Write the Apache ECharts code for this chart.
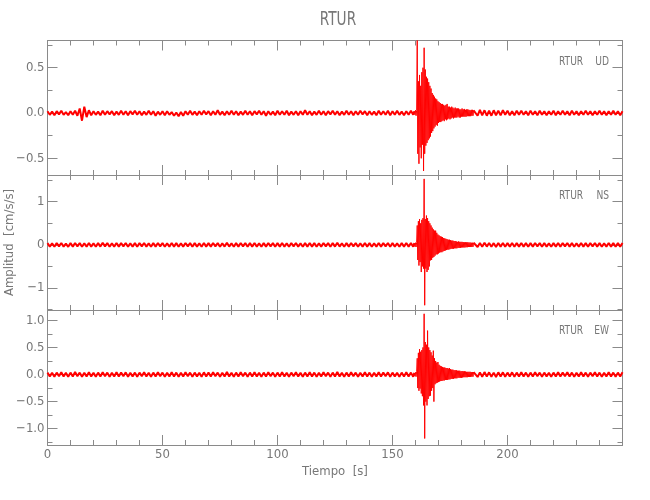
<!DOCTYPE html>
<html>
<head>
<meta charset="utf-8">
<script src="https://cdn.jsdelivr.net/npm/echarts@6/dist/echarts.min.js"></script>
<style>
html, body { margin: 0; background: #fff; }
#chart { width: 650px; height: 500px; }
</style>
</head>
<body>
<div id="chart"></div>
<script>
const station = 'RTUR';
const components = ['UD', 'NS', 'EW'];

// amplitudes in cm/s/s
// pre: t = 0..159 s (1 s), burst: t = 159.5..185.25 s (0.25 s), post: t = 186..250 s (1 s)
const udPre = [
  0.02,-0.02,0.015,-0.025,0.02,-0.015,0.025,-0.02,0.01,-0.025,
  0.02,-0.02,0.025,-0.03,0.05,-0.085,0.07,-0.045,0.03,-0.025,
  0.02,-0.02,0.015,-0.025,0.025,-0.02,0.02,-0.015,0.02,-0.025,
  0.015,-0.02,0.025,-0.02,0.02,-0.025,0.02,-0.015,0.025,-0.02,
  0.02,-0.025,0.015,-0.02,0.025,-0.02,0.02,-0.03,0.015,-0.02,
  0.02,-0.025,0.02,-0.02,0.01,-0.03,0.005,-0.035,0.01,-0.03,
  0.02,-0.02,0.025,-0.02,0.015,-0.025,0.02,-0.02,0.025,-0.015,
  0.02,-0.025,0.02,-0.02,0.03,-0.02,0.015,-0.025,0.02,-0.02,
  0.025,-0.02,0.02,-0.025,0.015,-0.02,0.025,-0.02,0.02,-0.025,
  0.02,-0.015,0.025,-0.02,0.02,-0.03,0.02,-0.02,0.015,-0.025,
  0.025,-0.02,0.02,-0.02,0.025,-0.025,0.015,-0.02,0.02,-0.025,
  0.02,-0.02,0.03,-0.02,0.02,-0.025,0.015,-0.02,0.025,-0.02,
  0.02,-0.025,0.02,-0.015,0.025,-0.02,0.02,-0.025,0.015,-0.02,
  0.025,-0.02,0.02,-0.025,0.02,-0.02,0.025,-0.015,0.02,-0.025,
  0.02,-0.02,0.015,-0.025,0.025,-0.02,0.02,-0.02,0.025,-0.025,
  0.02,-0.02,0.025,-0.02,0.015,-0.025,0.02,-0.02,0.025,-0.02
];
const udBurst = [
  0.02,-0.02,0.03,-0.03,   0.03,0.80,-0.45,0.35,    -0.56,0.42,-0.38,0.30,
  -0.50,0.45,-0.35,0.50,   -0.64,0.72,-0.45,0.48,   -0.36,0.40,-0.33,0.38,
  -0.30,0.34,-0.28,0.30,   -0.26,0.27,-0.22,0.22,   -0.20,0.20,-0.17,0.18,
  -0.15,0.16,-0.13,0.15,   -0.14,0.13,-0.11,0.12,   -0.10,0.11,-0.10,0.10,
  -0.09,0.10,-0.08,0.09,   -0.09,0.08,-0.07,0.09,   -0.08,0.10,-0.07,0.07,
  -0.06,0.07,-0.07,0.06,   -0.06,0.07,-0.05,0.06,   -0.06,0.05,-0.05,0.06,
  -0.05,0.05,-0.05,0.05,   -0.04,0.05,-0.05,0.04,   -0.05,0.04,-0.04,0.05,
  -0.04,0.04,-0.04,0.045,  -0.04,0.035,-0.04,0.04,  -0.035,0.04,-0.035,0.035,
  -0.035,0.03,-0.035,0.035,-0.03,0.035,-0.03,0.03
];
const udPost = [
  0.03,-0.03,0.035,-0.025,0.03,-0.03,0.025,-0.03,0.03,-0.025,
  0.025,-0.025,0.03,-0.02,0.025,-0.025,0.02,-0.025,0.025,-0.02,
  0.025,-0.02,0.02,-0.025,0.025,-0.02,0.02,-0.025,0.025,-0.02,
  0.02,-0.025,0.02,-0.02,0.025,-0.025,0.02,-0.02,0.025,-0.02,
  0.02,-0.025,0.025,-0.02,0.02,-0.025,0.02,-0.02,0.025,-0.02,
  0.02,-0.025,0.02,-0.02,0.025,-0.02,0.02,-0.025,0.02,-0.02,
  0.025,-0.02,0.02,-0.025,0.02
];

const nsPre = [
  0.04,-0.04,0.035,-0.045,0.04,-0.035,0.045,-0.04,0.03,-0.045,
  0.04,-0.04,0.045,-0.035,0.04,-0.045,0.035,-0.04,0.045,-0.04,
  0.035,-0.045,0.04,-0.04,0.05,-0.035,0.04,-0.045,0.035,-0.04,
  0.045,-0.04,0.04,-0.035,0.045,-0.045,0.035,-0.04,0.04,-0.045,
  0.04,-0.035,0.045,-0.04,0.035,-0.045,0.04,-0.04,0.045,-0.035,
  0.04,-0.045,0.035,-0.04,0.045,-0.04,0.04,-0.045,0.035,-0.04,
  0.045,-0.035,0.04,-0.045,0.04,-0.04,0.035,-0.045,0.045,-0.04,
  0.04,-0.04,0.045,-0.035,0.04,-0.045,0.035,-0.04,0.05,-0.04,
  0.035,-0.045,0.04,-0.04,0.045,-0.035,0.04,-0.045,0.04,-0.04,
  0.045,-0.04,0.035,-0.045,0.04,-0.04,0.045,-0.035,0.04,-0.045,
  0.04,-0.04,0.045,-0.04,0.035,-0.045,0.04,-0.035,0.045,-0.04,
  0.035,-0.045,0.04,-0.04,0.045,-0.04,0.04,-0.045,0.035,-0.04,
  0.045,-0.035,0.04,-0.045,0.04,-0.04,0.05,-0.04,0.035,-0.045,
  0.04,-0.04,0.045,-0.035,0.04,-0.045,0.035,-0.04,0.045,-0.04,
  0.04,-0.045,0.035,-0.04,0.045,-0.04,0.04,-0.035,0.045,-0.045,
  0.04,-0.04,0.035,-0.045,0.04,-0.04,0.045,-0.04,0.04,-0.045
];
const nsBurst = [
  0.04,-0.04,0.05,-0.05,   0.06,0.45,-0.35,0.55,    -0.48,0.60,-0.40,0.50,
  -0.63,0.58,-0.50,0.62,   -0.55,1.53,-1.40,0.60,   -0.55,0.68,-0.63,0.62,
  -0.58,0.55,-0.50,0.50,   -0.36,0.45,-0.35,0.40,   -0.30,0.36,-0.28,0.33,
  -0.25,0.33,-0.22,0.28,   -0.22,0.24,-0.20,0.22,   -0.18,0.20,-0.17,0.19,
  -0.17,0.18,-0.15,0.16,   -0.14,0.15,-0.13,0.14,   -0.12,0.13,-0.11,0.12,
  -0.11,0.12,-0.10,0.11,   -0.09,0.10,-0.09,0.10,   -0.09,0.09,-0.08,0.09,
  -0.08,0.08,-0.08,0.07,   -0.07,0.08,-0.07,0.07,   -0.07,0.07,-0.06,0.07,
  -0.06,0.065,-0.06,0.06,  -0.06,0.06,-0.055,0.06,  -0.055,0.06,-0.05,0.055,
  -0.05,0.055,-0.05,0.05,  -0.05,0.05,-0.045,0.05
];
const nsPost = [
  0.045,-0.05,0.045,-0.045,0.05,-0.04,0.045,-0.045,0.04,-0.05,
  0.045,-0.04,0.045,-0.045,0.04,-0.04,0.045,-0.045,0.04,-0.04,
  0.045,-0.04,0.04,-0.045,0.04,-0.04,0.045,-0.035,0.04,-0.045,
  0.04,-0.04,0.035,-0.045,0.04,-0.04,0.045,-0.04,0.04,-0.035,
  0.045,-0.04,0.04,-0.045,0.035,-0.04,0.045,-0.04,0.04,-0.045,
  0.04,-0.035,0.045,-0.04,0.04,-0.045,0.035,-0.04,0.045,-0.04,
  0.04,-0.045,0.04,-0.04,0.045
];

const ewPre = [
  0.035,-0.035,0.03,-0.04,0.035,-0.03,0.04,-0.035,0.03,-0.04,
  0.035,-0.035,0.045,-0.03,0.035,-0.04,0.03,-0.035,0.04,-0.035,
  0.03,-0.04,0.035,-0.035,0.04,-0.03,0.035,-0.04,0.03,-0.035,
  0.04,-0.035,0.035,-0.03,0.04,-0.04,0.03,-0.035,0.035,-0.04,
  0.035,-0.03,0.04,-0.035,0.03,-0.04,0.035,-0.035,0.04,-0.03,
  0.035,-0.04,0.03,-0.035,0.04,-0.035,0.035,-0.04,0.03,-0.035,
  0.04,-0.03,0.035,-0.04,0.035,-0.035,0.03,-0.04,0.04,-0.035,
  0.035,-0.035,0.04,-0.03,0.035,-0.04,0.03,-0.035,0.045,-0.035,
  0.03,-0.04,0.035,-0.035,0.04,-0.03,0.035,-0.04,0.035,-0.035,
  0.04,-0.035,0.03,-0.04,0.035,-0.035,0.04,-0.03,0.035,-0.04,
  0.035,-0.035,0.04,-0.035,0.03,-0.04,0.035,-0.03,0.04,-0.035,
  0.03,-0.04,0.035,-0.035,0.04,-0.035,0.035,-0.04,0.03,-0.035,
  0.04,-0.03,0.035,-0.04,0.035,-0.035,0.045,-0.035,0.03,-0.04,
  0.035,-0.035,0.04,-0.03,0.035,-0.04,0.03,-0.035,0.04,-0.035,
  0.035,-0.04,0.03,-0.035,0.04,-0.035,0.035,-0.03,0.04,-0.04,
  0.035,-0.035,0.03,-0.04,0.035,-0.035,0.04,-0.035,0.035,-0.04
];
const ewBurst = [
  0.03,-0.03,0.04,-0.04,   0.05,0.30,-0.25,0.40,    -0.30,0.47,-0.26,0.42,
  -0.35,0.45,-0.40,0.50,   -0.57,1.12,-1.18,0.60,   -0.50,0.55,-0.57,0.81,
  -0.45,0.50,-0.40,0.45,   -0.39,0.41,-0.30,0.35,   -0.25,0.44,-0.50,0.30,
  -0.18,0.25,-0.16,0.22,   -0.15,0.23,-0.14,0.18,   -0.13,0.16,-0.12,0.15,
  -0.12,0.14,-0.11,0.13,   -0.11,0.13,-0.10,0.12,   -0.10,0.12,-0.10,0.11,
  -0.09,0.12,-0.09,0.10,   -0.08,0.09,-0.08,0.09,   -0.08,0.08,-0.07,0.08,
  -0.07,0.08,-0.07,0.07,   -0.06,0.07,-0.06,0.07,   -0.06,0.06,-0.06,0.065,
  -0.055,0.06,-0.05,0.06,  -0.05,0.055,-0.05,0.05,  -0.05,0.05,-0.045,0.05,
  -0.045,0.05,-0.045,0.045,-0.04,0.045,-0.04,0.045
];
const ewPost = [
  0.04,-0.045,0.04,-0.04,0.045,-0.035,0.04,-0.04,0.035,-0.045,
  0.04,-0.035,0.04,-0.04,0.035,-0.035,0.04,-0.04,0.035,-0.035,
  0.04,-0.035,0.035,-0.04,0.035,-0.035,0.04,-0.03,0.035,-0.04,
  0.035,-0.035,0.03,-0.04,0.035,-0.035,0.04,-0.035,0.035,-0.03,
  0.04,-0.035,0.035,-0.04,0.03,-0.035,0.04,-0.035,0.035,-0.04,
  0.035,-0.03,0.04,-0.035,0.035,-0.04,0.03,-0.035,0.04,-0.035,
  0.035,-0.04,0.035,-0.035,0.04
];

// y ranges and ticks per panel
const yRanges = [[-0.684, 0.80], [-1.51, 1.62], [-1.30, 1.19]];
const yMajor = [[-0.5, 0, 0.5], [-1, 0, 1], [-1, -0.5, 0, 0.5, 1]];
const yMinor = [
  [-0.5, -0.25, 0, 0.25, 0.5, 0.75],
  [-1.5, -1, -0.5, 0, 0.5, 1, 1.5],
  [-1.25, -1, -0.75, -0.5, -0.25, 0, 0.25, 0.5, 0.75, 1]
];
const yDecimals = [1, 0, 1];
const xMax = 250;

const pts = (vals, t0, dt) => vals.map((v, i) => [t0 + i * dt, v]);
const noiseSets = [[udPre, udPost], [nsPre, nsPost], [ewPre, ewPost]];
const burstSets = [udBurst, nsBurst, ewBurst];

const FONT = '"DejaVu Sans Condensed", sans-serif';
const GRAY = '#8a8a8a';
const TXT = '#777';
const tops = [40.5, 175, 310];
const heights = [134.5, 135, 135];

const grids = [], xAxes = [], yAxes = [], series = [], graphics = [];
const line = { show: true, onZero: false, lineStyle: { color: GRAY, width: 1 } };

tops.forEach((top, g) => {
  grids.push({ left: 47.5, right: 27.5, top: top, height: heights[g], outerBoundsMode: 'none' });
  const bottomX = {
    type: 'value', gridIndex: g, position: 'bottom', min: 0, max: xMax, interval: 50,
    axisLine: line, splitLine: { show: false },
    axisTick: { inside: true, length: 10, lineStyle: { color: GRAY } },
    minorTick: { show: true, splitNumber: 5, length: 5, lineStyle: { color: GRAY } },
    axisLabel: { show: g === 2, margin: 3, color: TXT, fontFamily: FONT, fontSize: 13, showMaxLabel: false }
  };
  if (g === 2) {
    Object.assign(bottomX, {
      name: 'Tiempo  [s]', nameLocation: 'middle', nameGap: 20,
      nameTextStyle: { color: TXT, fontFamily: FONT, fontSize: 13 }
    });
  }
  xAxes.push(bottomX);
  xAxes.push(Object.assign({}, bottomX, { position: 'top', axisLabel: { show: false }, name: '' }));

  const [ymin, ymax] = yRanges[g];
  const fmt = v => v.toFixed(yDecimals[g]).replace('-', '\u2212');
  const base = { type: 'value', gridIndex: g, min: ymin, max: ymax, splitLine: { show: false }, axisLine: line };
  const leftMajor = Object.assign({}, base, {
    position: 'left',
    axisTick: { inside: true, length: 10, customValues: yMajor[g], lineStyle: { color: GRAY } },
    axisLabel: { customValues: yMajor[g], formatter: fmt, margin: 3, color: TXT, fontFamily: FONT, fontSize: 13 }
  });
  if (g === 1) {
    Object.assign(leftMajor, {
      name: 'Amplitud  [cm/s/s]', nameLocation: 'middle', nameGap: 30,
      nameTextStyle: { color: TXT, fontFamily: FONT, fontSize: 13 }
    });
  }
  const idx = yAxes.length;
  yAxes.push(leftMajor);
  yAxes.push(Object.assign({}, base, {
    position: 'left',
    axisTick: { inside: true, length: 5, customValues: yMinor[g], lineStyle: { color: GRAY } },
    axisLabel: { show: false }
  }));
  yAxes.push(Object.assign({}, base, {
    position: 'right',
    axisTick: { inside: true, length: 10, customValues: yMajor[g], lineStyle: { color: GRAY } },
    axisLabel: { show: false }
  }));
  yAxes.push(Object.assign({}, base, {
    position: 'right',
    axisTick: { inside: true, length: 5, customValues: yMinor[g], lineStyle: { color: GRAY } },
    axisLabel: { show: false }
  }));

  const [pre, post] = noiseSets[g];
  const burst = pts(burstSets[g], 159.5, 0.25);
  const common = { type: 'line', xAxisIndex: g * 2, yAxisIndex: idx, showSymbol: false, sampling: 'none', clip: true };
  // quiet parts drawn thicker so the noise reads as a solid band
  series.push(Object.assign({}, common, {
    data: pts(pre, 0, 1).concat([burst[0]]), lineStyle: { color: '#ff0000', width: 2 }
  }));
  series.push(Object.assign({}, common, {
    data: [burst[burst.length - 1]].concat(pts(post, 186, 1)), lineStyle: { color: '#ff0000', width: 2 }
  }));
  series.push(Object.assign({}, common, {
    data: burst, lineStyle: { color: '#ff0000', width: 1 }
  }));

  // station / component tag, squeezed to look like the plotter's narrow font
  graphics.push({
    type: 'text', x: 559, y: top + 21, scaleX: 0.78,
    style: { text: station, fill: TXT, font: '13px ' + FONT, textAlign: 'left', textVerticalAlign: 'middle' }
  });
  graphics.push({
    type: 'text', x: 609, y: top + 21, scaleX: 0.78,
    style: { text: components[g], fill: TXT, font: '13px ' + FONT, textAlign: 'right', textVerticalAlign: 'middle' }
  });
});

graphics.push({
  type: 'text', x: 338, y: 20, scaleX: 0.8,
  style: { text: station, fill: TXT, font: '19px ' + FONT, textAlign: 'center', textVerticalAlign: 'middle' }
});

const chart = echarts.init(document.getElementById('chart'));
chart.setOption({
  animation: false,
  grid: grids,
  xAxis: xAxes,
  yAxis: yAxes,
  series: series,
  graphic: graphics
});
</script>
</body>
</html>
